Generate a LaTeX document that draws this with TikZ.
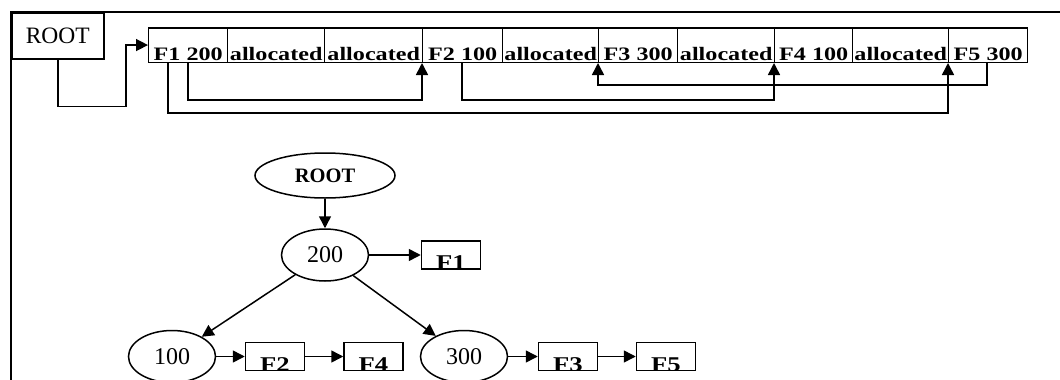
\documentclass[tikz,border=0pt]{standalone}
\usepackage{fontspec}
\usepackage{graphicx}
\setmainfont{Liberation Serif}
\usetikzlibrary{arrows.meta,calc,shapes.geometric}

% horizontally widened text, as in the memory-block labels
\newcommand\xstr[1]{\scalebox{1.27}[1]{#1}}

\begin{document}
\begin{tikzpicture}[x=1pt,y=-1pt,
  every node/.style={inner sep=0pt},
  tip/.style={-{Triangle[length=12pt,width=12pt]}},
  link/.style={line width=1.5pt, tip},
  frame/.style={line width=1.8pt},
  rootbox/.style={draw, line width=1.5pt, anchor=north west,
    minimum width=92pt, minimum height=46pt,
    font=\fontsize{23.5}{26}\selectfont},
  cell/.style={draw, line width=1.4pt, anchor=south west,
    minimum height=34pt, text height=33pt, text depth=1.5pt,
    font=\fontsize{19}{21}\selectfont\bfseries},
  ell/.style={draw, ellipse, line width=1.5pt,
    minimum width=87pt, minimum height=52pt,
    font=\fontsize{24}{26}\selectfont},
  tbox/.style={draw, line width=1.5pt, minimum width=59pt, minimum height=28pt},
  boxlabel/.style={path picture={\node[anchor=base, yshift=-0.5pt,
      font=\fontsize{21}{23}\selectfont\bfseries]
      at (path picture bounding box.south) {\xstr{#1}};}}
]
\useasboundingbox (0,0) rectangle (1060,380);
\clip (0,0) rectangle (1060,380);

% outer frame
\draw[frame] (1060,12) -- (11,12) -- (11,380);

% root pointer and the memory blocks
\node[rootbox] (rbox) at (11,12) {ROOT};

\node[cell, minimum width=79pt] (c1)  at (148,63)  {\xstr{F1 200}};
\node[cell, minimum width=97pt] (c2)  at (227,63)  {\xstr{allocated}};
\node[cell, minimum width=98pt] (c3)  at (324,63)  {\xstr{allocated}};
\node[cell, minimum width=80pt] (c4)  at (422,63)  {\xstr{F2 100}};
\node[cell, minimum width=96pt] (c5)  at (502,63)  {\xstr{allocated}};
\node[cell, minimum width=79pt] (c6)  at (598,63)  {\xstr{F3 300}};
\node[cell, minimum width=97pt] (c7)  at (677,63)  {\xstr{allocated}};
\node[cell, minimum width=78pt] (c8)  at (774,63)  {\xstr{F4 100}};
\node[cell, minimum width=96pt] (c9)  at (852,63)  {\xstr{allocated}};
\node[cell, minimum width=79pt] (c10) at (948,63)  {\xstr{F5 300}};

\draw[link] (rbox.south) -- ++(0,47) -| ($(c1.west)+(-22,0)$) -- (c1.west);

% free-list links between blocks
\draw[link] ($(c1.south west)+(40,0)$) -- ++(0,37) -| (c4.south west);
\draw[link] ($(c1.south west)+(20,0)$) -- ++(0,50) -| (c10.south west);
\draw[link] ($(c4.south west)+(40,0)$) -- ++(0,37) -| (c8.south west);
\draw[link] ($(c10.south west)+(39,0)$) -- ++(0,22) -| (c6.south west);

% size tree
\node[ell, minimum width=140pt, minimum height=45pt,
      font=\fontsize{20.5}{22}\selectfont\bfseries] (troot) at (325,175.5) {ROOT};
\node[ell] (n200) at (325,255) {200};
\node[ell] (n100) at (172,356.5) {100};
\node[ell] (n300) at (464,356.5) {300};

\node[tbox, boxlabel=F1] (f1) at (451,255) {};
\node[tbox, boxlabel=F2] (f2) at (275,356.5) {};
\node[tbox, boxlabel=F4] (f4) at (373.5,356.5) {};
\node[tbox, boxlabel=F3] (f3) at (568,356.5) {};
\node[tbox, boxlabel=F5] (f5) at (666,356.5) {};

\draw[link] (troot.south) -- (n200.north);
\draw[link] (n200) -- (n100);
\draw[link] (n200) -- (n300);
\draw[link] (n200.east) -- (f1.west);
\draw[link] (n100.east) -- (f2.west);
\draw[link] (f2.east) -- (f4.west);
\draw[link] (n300.east) -- (f3.west);
\draw[link] (f3.east) -- (f5.west);
\end{tikzpicture}
\end{document}
